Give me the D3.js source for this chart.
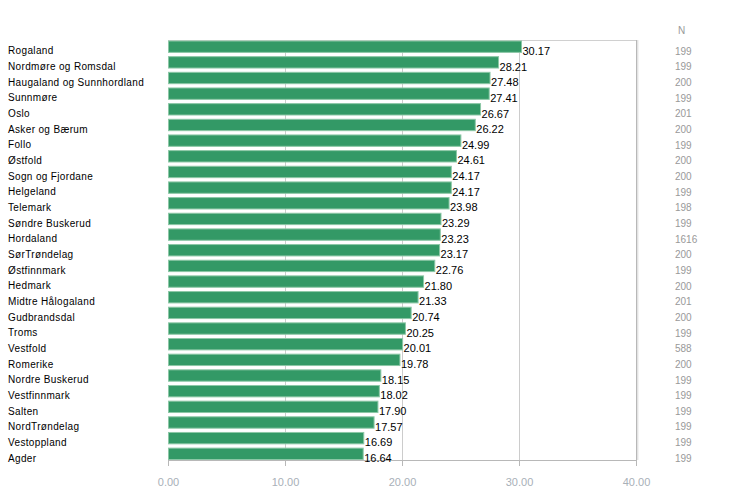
<!DOCTYPE html>
<html><head><meta charset="utf-8">
<script src="https://cdn.jsdelivr.net/npm/d3@7"></script>
<style>body{margin:0;background:#fff;}svg{display:block;}</style>
</head><body>
<script>
const categories = ["Rogaland","Nordmøre og Romsdal","Haugaland og Sunnhordland","Sunnmøre","Oslo","Asker og Bærum","Follo","Østfold","Sogn og Fjordane","Helgeland","Telemark","Søndre Buskerud","Hordaland","SørTrøndelag","Østfinnmark","Hedmark","Midtre Hålogaland","Gudbrandsdal","Troms","Vestfold","Romerike","Nordre Buskerud","Vestfinnmark","Salten","NordTrøndelag","Vestoppland","Agder"];
const values = [30.17,28.21,27.48,27.41,26.67,26.22,24.99,24.61,24.17,24.17,23.98,23.29,23.23,23.17,22.76,21.80,21.33,20.74,20.25,20.01,19.78,18.15,18.02,17.90,17.57,16.69,16.64];
const counts = [199,199,200,199,201,200,199,200,200,199,198,199,1616,200,199,200,201,200,199,588,200,199,199,199,199,199,199];
const xTicks = [0,10,20,30,40];
const nHeader = "N";

(function(){
const W=733,H=488;
const mL=168,mR=636,mT=40,mB=460;
const svg=d3.select("body").append("svg").attr("width",W).attr("height",H);
const x=d3.scaleLinear().domain([0,40]).range([mL,mR]);
const y=d3.scaleBand().domain(categories).range([mT+0.5,mB]).paddingInner(0.21).paddingOuter(0);

// gridlines
svg.append("g").selectAll("line").data(xTicks.slice(1,4)).join("line")
  .attr("x1",d=>x(d)+0.5).attr("x2",d=>x(d)+0.5).attr("y1",mT).attr("y2",mB)
  .attr("stroke","#cccccc");
// frame top & right
svg.append("line").attr("x1",mL).attr("x2",mR+1).attr("y1",mT+0.5).attr("y2",mT+0.5).attr("stroke","#d0d0d0");
svg.append("line").attr("x1",mR+0.5).attr("x2",mR+0.5).attr("y1",mT).attr("y2",mB).attr("stroke","#b8b8b8");
svg.append("line").attr("x1",mR+1.8).attr("x2",mR+1.8).attr("y1",mT).attr("y2",mB).attr("stroke","#d8d8d8");

// axis
const ax=svg.append("g").attr("transform",`translate(0,${mB})`)
  .call(d3.axisBottom(x).tickValues(xTicks).tickFormat(d3.format(".2f")).tickSize(6).tickPadding(12));
ax.select(".domain").attr("stroke","#b8b8b8").attr("d",`M${mL},0.5H${mR+1}`);
ax.selectAll(".tick line").attr("stroke","#b8b8b8");
ax.selectAll("text").attr("fill","#a8b0b8").style("font-family","Liberation Sans, Arial").style("font-size","11px");

// bars
svg.append("g").selectAll("rect").data(values).join("rect")
  .attr("x",mL+0.5).attr("y",(d,i)=>y(categories[i])+0.5)
  .attr("width",d=>x(d)-mL).attr("height",y.bandwidth()-1)
  .attr("fill","#339966").attr("stroke","#8cc7a6").attr("stroke-width",1);

// value labels
svg.append("g").selectAll("text").data(values).join("text")
  .attr("x",d=>x(d)+1.5).attr("y",(d,i)=>y(categories[i])+y.bandwidth()/2+8.2)
  .text(d=>d3.format(".2f")(d))
  .style("font-family","Liberation Sans, Arial").style("font-size","11px").attr("fill","#000");

// category labels
svg.append("g").selectAll("text").data(categories).join("text")
  .attr("x",8).attr("y",d=>y(d)+y.bandwidth()/2+7.8)
  .text(d=>d)
  .style("font-family","Liberation Sans, Arial").style("font-size","10px").style("letter-spacing","0.35px").attr("fill","#000");

// N column
svg.append("text").attr("x",678).attr("y",34).text(nHeader)
  .style("font-family","Liberation Sans, Arial").style("font-size","10px").attr("fill","#999");
svg.append("g").selectAll("text").data(counts).join("text")
  .attr("x",675).attr("y",(d,i)=>y(categories[i])+y.bandwidth()/2+8)
  .text(d=>d)
  .style("font-family","Liberation Sans, Arial").style("font-size","10px").attr("fill","#999");
})();
</script>
</body></html>
